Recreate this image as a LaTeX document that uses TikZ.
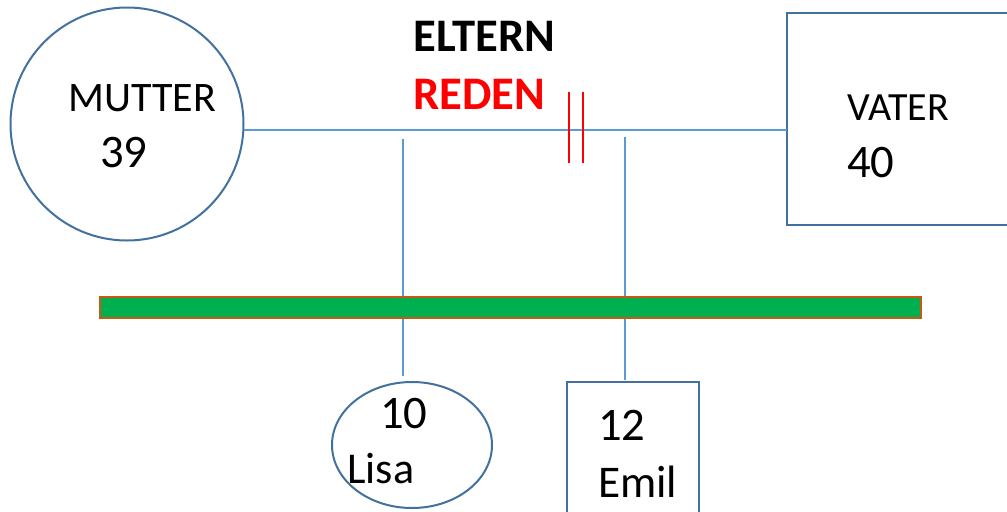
\documentclass[tikz,border=0pt]{standalone}
\usepackage{fontspec}
\setmainfont{Carlito}
\usetikzlibrary{shapes.geometric}
\definecolor{shapeblue}{RGB}{65,113,156}
\definecolor{lineblue}{RGB}{91,155,213}
\definecolor{barborder}{RGB}{197,90,17}
\definecolor{bargreen}{RGB}{0,176,80}
\begin{document}
\begin{tikzpicture}[x=0.75pt,y=-0.75pt,
  shapeline/.style={draw=shapeblue,line width=1.5pt,inner sep=0pt,outer sep=0pt},
  link/.style={draw=lineblue,line width=1.1pt},
  redline/.style={draw=red,line width=1.3pt},
  lbl/.style={anchor=base west,inner sep=0pt,text=black}]
\useasboundingbox (0,0) rectangle (1007,511);
\clip (0,0) rectangle (1007,511);
% shapes
\node[shapeline,circle,minimum size=174.75pt] (mutter) at (127,124) {};
\node[shapeline,rectangle,minimum width=182pt,minimum height=159pt] (vater) at (908.5,119) {};
\node[shapeline,ellipse,minimum width=120pt,minimum height=94.5pt] (lisa) at (412,445) {};
\node[shapeline,rectangle,minimum width=99pt,minimum height=111pt] (emil) at (633,456) {};
% texts
\node[lbl,font=\fontsize{31.5}{31.5}\selectfont] (tmutter) at (68,111) {MUTTER};
\node[lbl,font=\fontsize{35}{35}\selectfont] (tm39) at (100,167) {39};
\node[lbl,font=\fontsize{30}{30}\selectfont] (tvater) at (847,120) {VATER};
\node[lbl,font=\fontsize{35}{35}\selectfont] (tv40) at (847,177) {40};
\node[lbl,font=\bfseries\fontsize{35}{35}\selectfont] (eltern) at (413,51) {ELTERN};
\node[lbl,font=\bfseries\fontsize{35}{35}\selectfont,text=red] (reden) at (413,109) {REDEN};
\node[lbl,font=\fontsize{35}{35}\selectfont] (t10) at (380,428) {10};
\node[lbl,font=\fontsize{33}{33}\selectfont] (tlisa) at (347,483) {Lisa};
\node[lbl,font=\fontsize{35}{35}\selectfont] (t12) at (598,440) {12};
\node[lbl,font=\fontsize{34}{34}\selectfont] (temil) at (598,497) {Emil};
% connectors
\coordinate (hl) at (500,130);
\draw[link] (mutter.east |- hl) -- (vater.west |- hl);
\coordinate (ltop) at (403,139);
\coordinate (lbot) at (403,376);
\coordinate (etop) at (625,137);
\coordinate (ebot) at (625,380);
\draw[link] (ltop) -- (lbot);
\draw[link] (etop) -- (ebot);
\coordinate (r1t) at (569,92);
\coordinate (r1b) at (569,163);
\coordinate (r2t) at (583,92);
\coordinate (r2b) at (583,163);
\draw[redline] (r1t) -- (r1b);
\draw[redline] (r2t) -- (r2b);
% green bar on top of the lines
\node[draw=barborder,fill=bargreen,line width=2pt,inner sep=0pt,minimum width=615.75pt,minimum height=15.75pt] (bar) at (510.5,307.5) {};
\end{tikzpicture}
\end{document}
